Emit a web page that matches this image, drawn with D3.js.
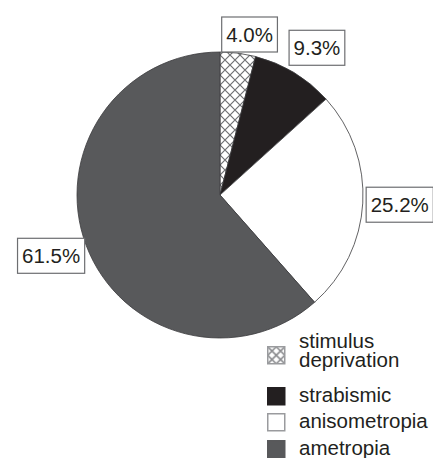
<!DOCTYPE html>
<html>
<head>
<meta charset="utf-8">
<script src="https://cdn.jsdelivr.net/npm/d3@7"></script>
<style>
  html, body { margin: 0; padding: 0; background: #fff; }
  svg { display: block; font-family: "Liberation Sans", Arial, sans-serif; }
</style>
</head>
<body>
<svg id="chart" width="433" height="458"></svg>
<script>
// data, clockwise from 12 o'clock
var categories = ['stimulus deprivation', 'strabismic', 'anisometropia', 'ametropia']
var shares = [4.0, 9.3, 25.2, 61.5]
var pctLabels = ['4.0%', '9.3%', '25.2%', '61.5%']
var legendLines = [['stimulus', 'deprivation'], ['strabismic'], ['anisometropia'], ['ametropia']]

var fills = ['url(#hatch)', '#231f20', '#ffffff', '#58595b']
var legendFills = ['url(#hatchSmall)', '#231f20', '#ffffff', '#58595b']

var svg = d3.select('#chart')
var cx = 220, cy = 195, radius = 143

var defs = svg.append('defs')

var hatch = defs.append('pattern')
    .attr('id', 'hatch')
    .attr('patternUnits', 'userSpaceOnUse')
    .attr('x', cx).attr('y', 0)
    .attr('width', 10).attr('height', 10)
hatch.append('rect').attr('width', 10).attr('height', 10).attr('fill', '#fff')
hatch.append('path')
    .attr('d', 'M0,0L10,10M10,0L0,10')
    .attr('stroke', '#6f7073').attr('stroke-width', 1.2)

// legend swatch uses a coarser hatch lined up with the box
var hatchSmall = defs.append('pattern')
    .attr('id', 'hatchSmall')
    .attr('patternUnits', 'objectBoundingBox')
    .attr('width', 1).attr('height', 1)
hatchSmall.append('rect').attr('width', 17).attr('height', 17).attr('fill', '#fff')
hatchSmall.append('path')
    .attr('d', 'M0,0L17,17M17,0L0,17M8.5,0L17,8.5L8.5,17L0,8.5Z')
    .attr('fill', 'none')
    .attr('stroke', '#8a8b8e').attr('stroke-width', 1.6)

var pie = d3.pie()
    .sort(null)
    .value(function(d) { return d })

var arcs = pie(shares)

var arc = d3.arc()
    .innerRadius(0)
    .outerRadius(radius)

var labelArc = d3.arc()
    .innerRadius(172)
    .outerRadius(172)

var g = svg.append('g')
    .attr('transform', 'translate(' + cx + ',' + cy + ')')

g.selectAll('path.slice')
    .data(arcs)
  .enter().append('path')
    .attr('class', 'slice')
    .attr('d', arc)
    .attr('fill', function(d, i) { return fills[i] })
    .attr('stroke', '#3a3a3c')
    .attr('stroke-width', 0.8)

// percentage labels in boxes
var boxH = 35

var labels = g.selectAll('g.lbl')
    .data(arcs)
  .enter().append('g')
    .attr('class', 'lbl')
    .attr('transform', function(d) {
      var c = labelArc.centroid(d)
      var mid = (d.startAngle + d.endAngle) / 2
      var nudge = Math.sin(mid) >= 0 ? 8 : -8
      // keep boxes sitting on top of the pie rather than floating above it
      var y = Math.max(c[1], -radius - boxH / 2)
      return 'translate(' + (c[0] + nudge) + ',' + y + ')'
    })

labels.append('rect')
labels.append('text')
    .attr('text-anchor', 'middle')
    .attr('dy', '0.36em')
    .attr('font-size', 20.5)
    .attr('fill', '#231f20')
    .text(function(d, i) { return pctLabels[i] })

labels.each(function() {
  var sel = d3.select(this)
  var w = sel.select('text').node().getComputedTextLength() + 9
  sel.select('rect')
      .attr('x', -w / 2).attr('y', -boxH / 2)
      .attr('width', w).attr('height', boxH)
      .attr('fill', '#fff')
      .attr('stroke', '#6d6e71')
      .attr('stroke-width', 1.2)
})

// legend
var legendY = d3.scaleOrdinal()
    .domain(categories)
    .range([346, 387, 413, 440])

var legend = svg.append('g')
    .attr('transform', 'translate(267,0)')

var item = legend.selectAll('g.item')
    .data(categories)
  .enter().append('g')
    .attr('class', 'item')
    .attr('transform', function(d) { return 'translate(0,' + legendY(d) + ')' })

item.append('rect')
    .attr('x', 0.75).attr('y', 0.75)
    .attr('width', 17).attr('height', 17)
    .attr('fill', function(d, i) { return legendFills[i] })
    .attr('stroke', function(d, i) { return i == 1 ? '#231f20' : (i == 3 ? '#58595b' : '#9a9b9e') })
    .attr('stroke-width', 1.5)

item.append('text')
    .attr('x', 32)
    .attr('font-size', 20.5)
    .attr('fill', '#231f20')
    .each(function(d, i) {
      var lines = legendLines[i]
      var t = d3.select(this)
      var first = lines.length > 1 ? 2 : 15
      lines.forEach(function(line, j) {
        t.append('tspan')
            .attr('x', 32)
            .attr('y', first + j * 19)
            .text(line)
      })
    })
</script>
</body>
</html>
